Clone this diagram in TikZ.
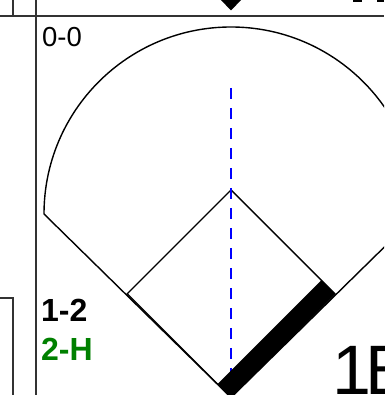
\documentclass[tikz,border=0pt]{standalone}
\usepackage{fontspec}
\setmainfont{Liberation Sans}
\usetikzlibrary{calc}
\definecolor{scoregreen}{RGB}{0,128,0}
\definecolor{runblue}{RGB}{0,0,255}
\tikzset{
  thinline/.style={line width=1.4pt, black},
  gridline/.style={line width=1.6pt, black!80},
  baseline/.style={line width=1.4pt, black, line join=miter},
  pathline/.style={line width=2pt, runblue, dash pattern=on 11pt off 9pt},
  lbl/.style={inner sep=0pt, anchor=base west},
}
\begin{document}
\begin{tikzpicture}[x=1pt,y=1pt]
\useasboundingbox (0,0) rectangle (384,395);
\clip (0,0) rectangle (384,395);
% cell borders
\draw[gridline] (0,379) -- (384,379);
\draw[gridline] (36,0) -- (36,395);
\draw[gridline] (13,379) -- (13,395);
\draw[gridline] (0,97) -- (13,97) -- (13,0);
% marker triangle at top
\fill (220,396) -- (242,396) -- (231,384.5) -- cycle;
% cut-off marks at top right
\fill (352.5,392.5) rectangle (361.5,395);
\fill (377,392.5) rectangle (384,395);
% field points
\coordinate (home) at (231,-2.5);
\coordinate (first) at (334.75,101.25);
\coordinate (second) at (231,205);
\coordinate (third) at (127.25,101.25);
\coordinate (lfoul) at (44,181);
\coordinate (rfoul) at (418,181);
\coordinate (pathtop) at (231,307);
\coordinate (firstin) at (321.35,114.65);
\coordinate (homein) at (217.6,10.9);
% outfield and foul lines
\draw[thinline] (lfoul) arc[start angle=180, end angle=0, radius=187pt] -- (home) -- cycle;
% infield diamond
\draw[baseline] (home) -- (first) -- (second) -- (third) -- cycle;
% runner path
\draw[pathline] (pathtop) -- (home);
% thick bar home to first
\fill (home) -- (first) -- (firstin) -- (homein) -- cycle;
% texts
\node[lbl, font=\fontsize{27.5}{30}\selectfont] (count) at (42,348) {0-0};
\node[lbl, font=\fontsize{32}{34}\selectfont\bfseries] (outs) at (41,73) {1-2};
\node[lbl, font=\fontsize{32}{34}\selectfont\bfseries, text=scoregreen] (adv) at (41,34) {2-H};
\node[lbl, font=\fontsize{70}{72}\selectfont] (hit) at (332,0) {1\kern-6pt B};
\end{tikzpicture}
\end{document}
